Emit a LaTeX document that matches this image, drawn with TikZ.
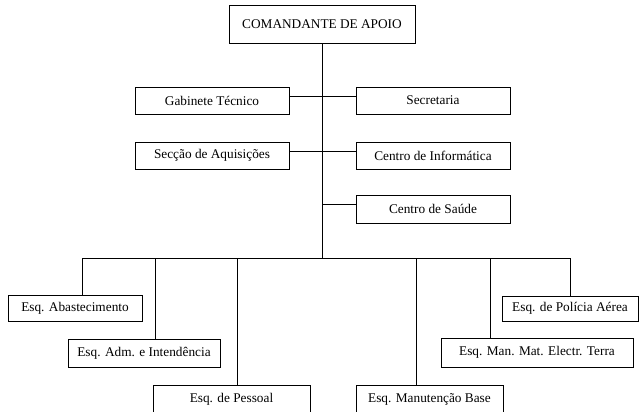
\documentclass[tikz,border=0pt]{standalone}
\usepackage{fontspec}
\setmainfont{Liberation Serif}
\tikzset{
  unit/.style={draw, line width=0.8pt, inner sep=0pt, minimum height=27pt,
    font=\fontsize{13.3}{15}\selectfont},
  cutbox/.style={unit, anchor=north, minimum height=0pt, inner ysep=8pt,
    text height=9pt, text depth=22pt}
}
\begin{document}
\begin{tikzpicture}[x=1pt, y=-1pt, line width=0.8pt]
      \useasboundingbox (0,0) rectangle (640,412);
      \clip (0,0) rectangle (640,412);
      \draw
        (322,24) node[unit, minimum width=186pt, minimum height=38pt] (cmd) {COMANDANTE DE APOIO}
        (212,100.5) node[unit, minimum width=154pt] (gab) {Gabinete Técnico}
        (433,100.5) node[unit, minimum width=154pt] (secr) {Secretaria}
        (212,155.5) node[unit, minimum width=154pt] (secc) {Secção de Aquisições}
        (433,155.5) node[unit, minimum width=154pt] (cinf) {Centro de Informática}
        (433,209) node[unit, minimum width=154pt, minimum height=28pt] (csau) {Centro de Saúde}
        (75,308) node[unit, minimum width=134pt, minimum height=26pt] (abast) {Esq. Abastecimento}
        (144,353) node[unit, minimum width=152pt, minimum height=28pt] (adm) {Esq. Adm. e Intendência}
        (231.5,385) node[cutbox, minimum width=157pt] (pess) {Esq. de Pessoal}
        (429.5,385) node[cutbox, minimum width=147pt] (manut) {Esq. Manutenção Base}
        (537,352.5) node[unit, minimum width=192pt, minimum height=29pt] (mmet) {Esq. Man. Mat. Electr. Terra}
        (570,308.5) node[unit, minimum width=136pt, minimum height=25pt] (pol) {Esq. de Polícia Aérea};
      \coordinate (bus) at (322,258);
      \coordinate (sj) at ([yshift=5pt]csau.west);
      \coordinate (d1) at (82,258);
      \coordinate (d2) at (155,258);
      \coordinate (d3) at (237,258);
      \coordinate (d4) at (416,258);
      \coordinate (d5) at (490,258);
      \coordinate (d6) at (570,258);
      \begin{scope}[-]
        \draw (cmd.south) to (bus);
        \draw ([yshift=4.5pt]gab.east) to ([yshift=4.5pt]secr.west);
        \draw ([yshift=4.5pt]secc.east) to ([yshift=4.5pt]cinf.west);
        \draw (sj) to (cmd.south |- sj);
        \draw (d1) to (d6);
        \draw (d1) to (d1 |- abast.north);
        \draw (d2) to (d2 |- adm.north);
        \draw (d3) to (d3 |- pess.north);
        \draw (d4) to (d4 |- manut.north);
        \draw (d5) to (d5 |- mmet.north);
        \draw (d6) to (d6 |- pol.north);
      \end{scope}
    \end{tikzpicture}
\end{document}
